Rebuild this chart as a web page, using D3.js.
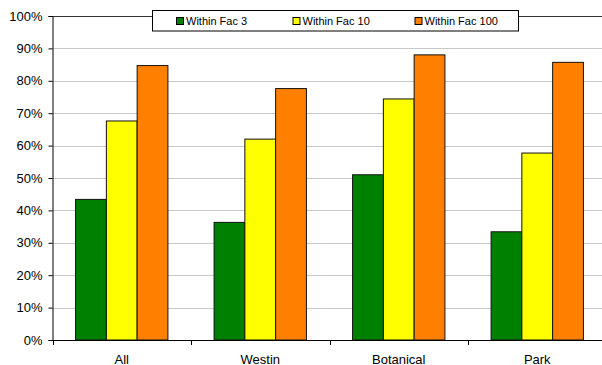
<!DOCTYPE html>
<html>
<head>
<meta charset="utf-8">
<script src="https://cdn.jsdelivr.net/npm/d3@7"></script>
<style>
  html, body { margin: 0; padding: 0; background: #fff; }
  svg { display: block; font-family: "Liberation Sans", Arial, sans-serif; }
</style>
</head>
<body>
<svg id="chart" width="602" height="365"></svg>
<script>
// Sites and the share of estimates within a factor of 3, 10 and 100
const categories = ["All", "Westin", "Botanical", "Park"];
const seriesNames = ["Within Fac 3", "Within Fac 10", "Within Fac 100"];
const fac3 = [0.434, 0.363, 0.510, 0.334];
const fac10 = [0.676, 0.620, 0.744, 0.577];
const fac100 = [0.847, 0.776, 0.880, 0.857];
const yTicks = [0, 0.1, 0.2, 0.3, 0.4, 0.5, 0.6, 0.7, 0.8, 0.9, 1.0];
const colors = ["#008000", "#FFFF00", "#FF8000"];

const series = [fac3, fac10, fac100];

const svg = d3.select("#chart");
const plotLeft = 52.5, plotTop = 16, plotBottom = 340;
const catWidth = 138.5;
const plotRight = plotLeft + catWidth * categories.length;

const x = d3.scaleBand().domain(categories).range([plotLeft, plotRight]).paddingInner(0).paddingOuter(0);
// bars fill 3 of 4.5 bar-widths in each category (Excel gap width 150%)
const barW = x.bandwidth() / 4.5;
const xs = d3.scaleBand().domain(seriesNames).range([barW * 0.75, barW * 3.75]).padding(0);
const y = d3.scaleLinear().domain([0, 1]).range([plotBottom, plotTop]);

// light gridlines
svg.append("g")
  .selectAll("line")
  .data(yTicks.filter(t => t > 0 && t < 1))
  .join("line")
  .attr("x1", plotLeft).attr("x2", 602)
  .attr("y1", d => Math.round(y(d)) + 0.5).attr("y2", d => Math.round(y(d)) + 0.5)
  .attr("stroke", "#c8c8c8").attr("stroke-width", 1);

// top border line
svg.append("line")
  .attr("x1", plotLeft).attr("x2", 602)
  .attr("y1", y(1) + 0.5).attr("y2", y(1) + 0.5)
  .attr("stroke", "#333").attr("stroke-width", 1);

// bars
const groups = svg.append("g")
  .selectAll("g")
  .data(categories)
  .join("g")
  .attr("transform", d => `translate(${x(d)},0)`);

groups.selectAll("rect")
  .data((c, i) => series.map((s, k) => ({ name: seriesNames[k], value: s[i], k })))
  .join("rect")
  .attr("x", d => xs(d.name))
  .attr("width", xs.bandwidth())
  .attr("y", d => y(d.value))
  .attr("height", d => plotBottom - y(d.value))
  .attr("fill", d => colors[d.k])
  .attr("stroke", "#111")
  .attr("stroke-width", 1);

// y axis
const yAxis = d3.axisLeft(y)
  .tickValues(yTicks)
  .tickFormat(d3.format(".0%"))
  .tickSize(4)
  .tickPadding(6);
const gy = svg.append("g").attr("transform", `translate(${plotLeft},0)`).call(yAxis);
gy.select(".domain").attr("stroke", "#000");
gy.selectAll(".tick line").attr("stroke", "#000");
gy.selectAll(".tick text").attr("font-size", 13).attr("fill", "#000")
  .attr("font-family", "Liberation Sans, Arial, sans-serif");

// x axis with ticks at category boundaries
const xAxisG = svg.append("g").attr("transform", `translate(0,${plotBottom})`);
xAxisG.append("line")
  .attr("x1", plotLeft).attr("x2", 602).attr("y1", 0.5).attr("y2", 0.5)
  .attr("stroke", "#000");
xAxisG.selectAll("line.tk")
  .data(categories)
  .join("line")
  .attr("class", "tk")
  .attr("x1", d => Math.round(x(d)) + 0.5).attr("x2", d => Math.round(x(d)) + 0.5)
  .attr("y1", 0).attr("y2", 5)
  .attr("stroke", "#000");
xAxisG.selectAll("text")
  .data(categories)
  .join("text")
  .attr("x", d => x(d) + x.bandwidth() / 2)
  .attr("y", 23.5)
  .attr("text-anchor", "middle")
  .attr("font-size", 13)
  .attr("fill", "#000")
  .text(d => d);

// legend
const legend = svg.append("g");
legend.append("rect")
  .attr("x", 152.5).attr("y", 10.5).attr("width", 366).attr("height", 20.5)
  .attr("fill", "#fff").attr("stroke", "#000").attr("stroke-width", 1);
const legendX = [176, 292.5, 414.5];
const items = legend.selectAll("g.item")
  .data(seriesNames)
  .join("g")
  .attr("class", "item")
  .attr("transform", (d, i) => `translate(${legendX[i]},0)`);
items.append("rect")
  .attr("x", 0.5).attr("y", 17.5).attr("width", 7).attr("height", 7)
  .attr("fill", (d, i) => colors[i]).attr("stroke", "#000");
items.append("text")
  .attr("x", 10).attr("y", 25)
  .attr("font-size", 11)
  .attr("fill", "#000")
  .text(d => d);
</script>
</body>
</html>
